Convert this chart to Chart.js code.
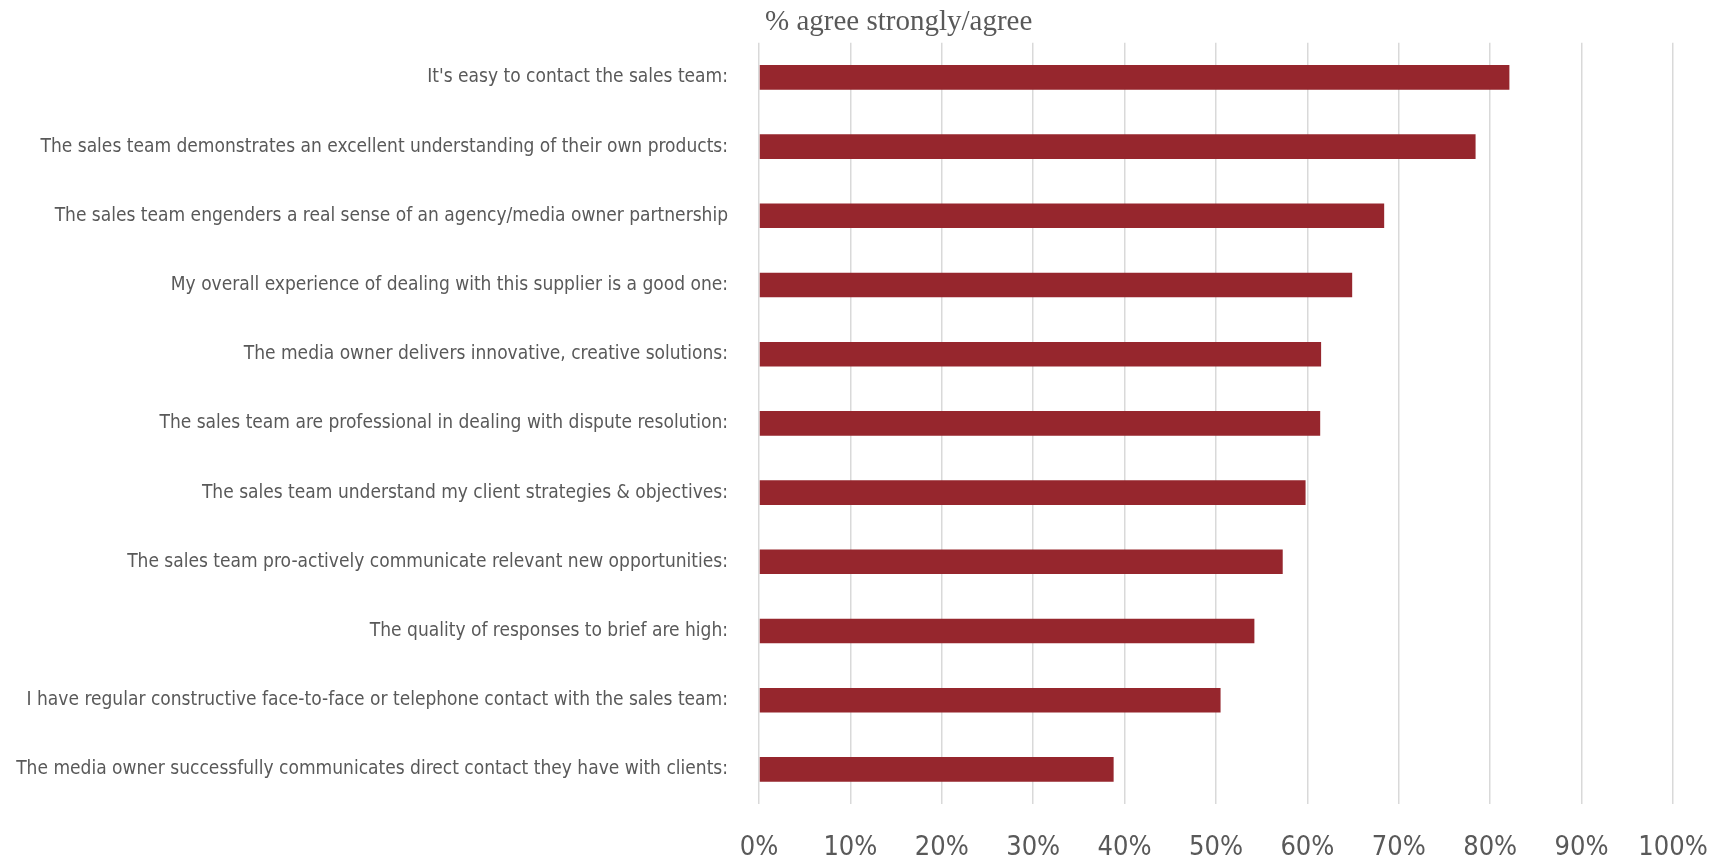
<!DOCTYPE html>
<html>
<head>
<meta charset="utf-8">
<script src="https://cdn.jsdelivr.net/npm/chart.js@4.4.1/dist/chart.umd.min.js"></script>
<style>
  html, body { margin: 0; padding: 0; background: #ffffff; }
  #wrap { position: relative; width: 1720px; height: 860px; }
</style>
</head>
<body>
<div id="wrap"><canvas id="chart" width="1720" height="860"></canvas></div>
<script>
// Survey statements, top to bottom
const statements = [
  "It's easy to contact the sales team:",
  "The sales team demonstrates an excellent understanding of their own products:",
  "The sales team engenders a real sense of an agency/media owner partnership",
  "My overall experience of dealing with this supplier is a good one:",
  "The media owner delivers innovative, creative solutions:",
  "The sales team are professional in dealing with dispute resolution:",
  "The sales team understand my client strategies & objectives:",
  "The sales team pro-actively communicate relevant new opportunities:",
  "The quality of responses to brief are high:",
  "I have regular constructive face-to-face or telephone contact with the sales team:",
  "The media owner successfully communicates direct contact they have with clients:"
];

// Share of respondents who agree strongly or agree (%)
const agreePct = [82.1, 78.4, 68.4, 64.9, 61.5, 61.4, 59.8, 57.3, 54.2, 50.5, 38.8];

// Axis ticks (%)
const pctTicks = [0, 10, 20, 30, 40, 50, 60, 70, 80, 90, 100];

const chartTitle = "% agree strongly/agree";

const labelFont = "'Liberation Sans Narrow', 'DejaVu Sans Condensed', 'Liberation Sans', sans-serif";
const gray = '#595959';

// Nudge the left-aligned title a little in from the plot edge
const titleIndent = {
  id: 'titleIndent',
  afterLayout(chart) {
    if (chart.titleBlock) chart.titleBlock.left += 6;
  }
};

new Chart(document.getElementById('chart'), {
  type: 'bar',
  data: {
    labels: statements,
    datasets: [{
      data: agreePct,
      backgroundColor: '#96262d',
      borderWidth: 0,
      categoryPercentage: 1,
      barPercentage: 0.355
    }]
  },
  plugins: [titleIndent],
  options: {
    indexAxis: 'y',
    responsive: false,
    animation: false,
    layout: { padding: { top: 0, right: 47, bottom: 0, left: 0 } },
    plugins: {
      legend: { display: false },
      tooltip: { enabled: false },
      title: {
        display: true,
        text: chartTitle,
        fullSize: false,
        align: 'start',
        color: gray,
        font: { family: "'Liberation Serif', 'DejaVu Serif', serif", size: 29, weight: 'normal' },
        padding: { top: 5, bottom: 3 }
      }
    },
    scales: {
      x: {
        min: 0,
        max: 100,
        afterBuildTicks: (scale) => { scale.ticks = pctTicks.map(v => ({ value: v })); },
        afterFit: (scale) => {
          scale.height = 56;
          scale.paddingLeft = 0;
          scale.paddingRight = 0;
        },
        ticks: {
          color: gray,
          padding: 28,
          maxRotation: 0,
          font: { family: labelFont, size: 27 },
          callback: (v) => v + '%'
        },
        grid: { color: '#d9d9d9', lineWidth: 1.5, drawTicks: false },
        border: { display: false }
      },
      y: {
        afterFit: (scale) => { scale.width = 759; },
        ticks: {
          color: gray,
          padding: 31,
          autoSkip: false,
          font: { family: labelFont, size: 19 }
        },
        grid: { display: false, drawTicks: false },
        border: { display: false }
      }
    }
  }
});
</script>
</body>
</html>
